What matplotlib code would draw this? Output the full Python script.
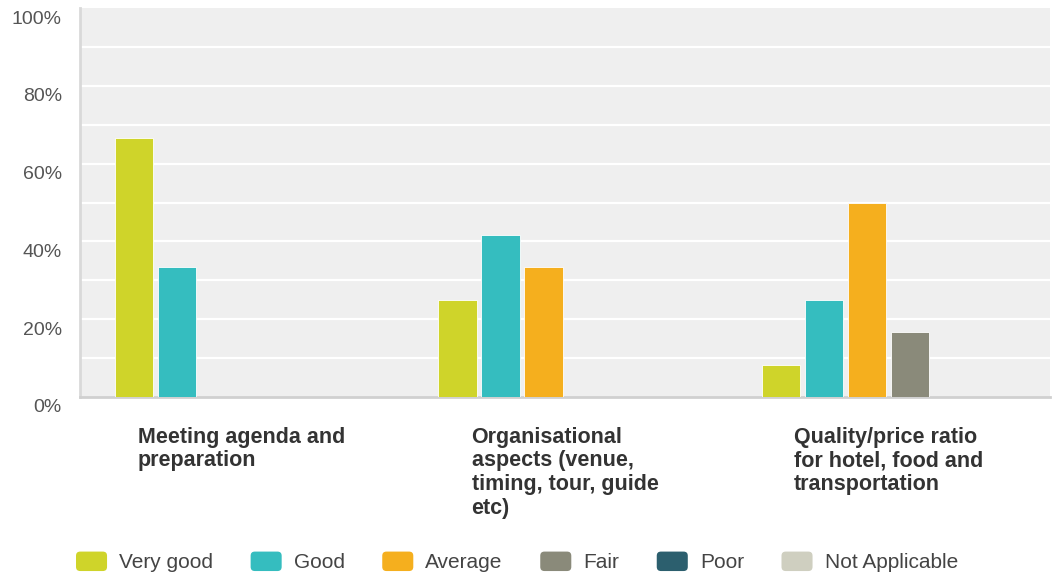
import numpy as np
import matplotlib.pyplot as plt
from matplotlib.patches import FancyBboxPatch
from matplotlib.legend_handler import HandlerPatch
from matplotlib.transforms import blended_transform_factory, ScaledTranslation

plt.rcParams['font.family'] = ['Liberation Sans', 'DejaVu Sans']

# --- data ---
categories = ['Meeting agenda and\npreparation',
              'Organisational\naspects (venue,\ntiming, tour, guide\netc)',
              'Quality/price ratio\nfor hotel, food and\ntransportation']
series = ['Very good', 'Good', 'Average', 'Fair', 'Poor', 'Not Applicable']
very_good = [66.7, 25.0, 8.3]
good = [33.3, 41.7, 25.0]
average = [0.0, 33.3, 50.0]
fair = [0.0, 0.0, 16.7]
poor = [0.0, 0.0, 0.0]
not_applicable = [0.0, 0.0, 0.0]
colors = ['#cfd42a', '#35bdbf', '#f5af1e', '#8a8a7a', '#2c5f6e', '#cfcfc0']

values = [very_good, good, average, fair, poor, not_applicable]


class RoundBox(HandlerPatch):
    # legend swatch with rounded corners
    def create_artists(self, legend, orig_handle, xdescent, ydescent,
                       width, height, fontsize, trans):
        p = FancyBboxPatch((-xdescent, -ydescent), width, height,
                           boxstyle='round,pad=0,rounding_size=3',
                           facecolor=orig_handle.get_facecolor(),
                           edgecolor='none', transform=trans)
        return [p]


fig = plt.figure(figsize=(10.52, 5.76), dpi=100)
ax = fig.add_axes([80/1052, 1-397/576, 970/1052, 389/576])
ax.set_facecolor('#efefef')

x = np.arange(len(categories))
slot = 0.133
width = 0.118
bars = []
for k, (vals, col) in enumerate(zip(values, colors)):
    offs = (k - 2.5) * slot
    b = ax.bar(x + offs, vals, width=width, color=col, edgecolor='#ffffff',
               linewidth=0.6, label=series[k], zorder=3)
    bars.append(b)

ax.set_xlim(-0.5, len(categories) - 0.5)
ax.set_ylim(0, 100)
ax.set_yticks(np.arange(0, 101, 20))
ax.set_yticklabels(['%d%%' % v for v in range(0, 101, 20)])
for v in range(10, 100, 10):
    ax.axhline(v, color='white', linewidth=1.6, zorder=1)
ax.tick_params(axis='y', length=0, pad=13, labelsize=14, labelcolor='#555555')
ax.tick_params(axis='x', length=0, labelbottom=False)
shift = ScaledTranslation(0, -9/100, fig.dpi_scale_trans)
for lab in ax.get_yticklabels():
    lab.set_transform(lab.get_transform() + shift)
for s in ['top', 'right']:
    ax.spines[s].set_visible(False)
ax.spines['left'].set_color('#d9d9d9')
ax.spines['left'].set_linewidth(2)
ax.spines['bottom'].set_color('#d0d0d0')
ax.spines['bottom'].set_linewidth(2)

trans = blended_transform_factory(ax.transData, ax.transAxes)
for i, lab in enumerate(categories):
    ax.text(i, -0.076, lab, transform=trans, ha='center', va='top',
            multialignment='left', fontsize=15.5, fontweight='bold',
            color='#333333', linespacing=1.17)

leg = fig.legend(handles=[b.patches[0] for b in bars], labels=series,
                 loc='center left', bbox_to_anchor=(76/1052, 1-562/576),
                 ncol=6, frameon=False, fontsize=15, handlelength=1.49,
                 handleheight=1.06, handletextpad=0.58, columnspacing=1.8,
                 borderpad=0, borderaxespad=0,
                 handler_map={b.patches[0]: RoundBox() for b in bars})
for t in leg.get_texts():
    t.set_color('#444444')

fig.savefig('out.png', dpi=100)
